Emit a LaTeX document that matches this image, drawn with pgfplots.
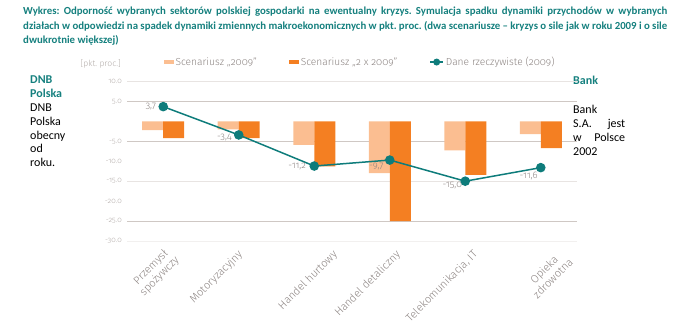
\documentclass[border=0pt]{standalone}
\usepackage{pgfplots}
\pgfplotsset{compat=1.18}
\usepackage{fontspec}
\setmainfont{Carlito}
\newfontfamily\chartfont[Numbers=OldStyle]{Fira Sans Light}
\definecolor{tealc}{HTML}{0E7C7B}
\definecolor{titlec}{HTML}{15807E}
\definecolor{lightor}{HTML}{FBBE91}
\definecolor{darkor}{HTML}{F47F22}
\definecolor{labgray}{HTML}{8C8482}
\definecolor{tickgray}{HTML}{B2ABA8}
\definecolor{gridmed}{HTML}{CFC8C4}
\definecolor{gridlight}{HTML}{E8E4E2}
\definecolor{gridvl}{HTML}{F2F0EF}
\frenchspacing
\begin{document}
\begin{tikzpicture}
\useasboundingbox (0,0) rectangle (680pt,-333pt);
% title
\node[anchor=north west, inner sep=0pt, text=titlec] at (23pt,-7pt) {\parbox{644pt}{\fontsize{10.8}{14.5}\selectfont\bfseries\frenchspacing Wykres: Odporność wybranych sektorów polskiej gospodarki na ewentualny kryzys. Symulacja spadku dynamiki przychodów w wybranych\linebreak działach w odpowiedzi na spadek dynamiki zmiennych makroekonomicznych w pkt. proc. (dwa scenariusze – kryzys o sile jak w roku 2009 i o sile\linebreak dwukrotnie większej)}};
% left text
\node[anchor=north west, inner sep=0pt, align=left, font=\fontsize{12}{13.8}\selectfont] at (30pt,-76pt) {\textcolor{titlec}{\bfseries DNB}\\\textcolor{titlec}{\bfseries Polska}\\DNB\\Polska\\obecny\\od\\roku.};
% right text
\node[anchor=north west, inner sep=0pt, text=titlec] at (573pt,-76pt) {\fontsize{12}{14}\selectfont\bfseries Bank};
\node[anchor=north west, inner sep=0pt] at (573pt,-105pt) {\parbox{52pt}{\fontsize{12}{14}\selectfont Bank\linebreak S.A.\hfill jest\linebreak w\hfill Polsce\linebreak 2002}};
% unit
\node[anchor=east, inner sep=0pt, text=tickgray, font=\chartfont\fontsize{8.5}{9}\selectfont] at (121pt,-64pt) {[pkt. proc.]};
\begin{axis}[
  at={(127pt,-241pt)}, anchor=south west,
  scale only axis, width=450pt, height=159.5pt,
  xmin=-0.48, xmax=5.48, ymin=-30, ymax=10,
  axis line style={draw=none},
  major tick length=0pt,
  xtick=\empty,
  ytick={-30,-25,-20,-15,-10,-5,0,5,10},
  yticklabels={-30.0,-25.0,-20.0,-15.0,-10.0,-5.0,{},5.0,10.0},
  yticklabel style={font=\chartfont\fontsize{7.5}{8}\selectfont, text=tickgray, inner sep=0pt, xshift=-5pt},
  clip=false,
  legend columns=3,
  legend cell align=left,
  legend style={draw=none, fill=none, at={(0.518,1.122)}, anchor=center,
    font=\chartfont\fontsize{10.2}{11}\selectfont, text=labgray,
    /tikz/every even column/.append style={column sep=30pt}},
]
\draw[gridlight, line width=0.8pt] (axis cs:-0.48,10) -- (axis cs:5.48,10);
\draw[gridmed, line width=0.8pt] (axis cs:-0.48,5) -- (axis cs:5.48,5);
\draw[gridmed, line width=0.8pt] (axis cs:-0.48,-5) -- (axis cs:5.48,-5);
\draw[gridlight, line width=0.8pt] (axis cs:-0.48,-15) -- (axis cs:5.48,-15);
\draw[gridmed, line width=0.8pt] (axis cs:-0.48,-25) -- (axis cs:5.48,-25);
\draw[gridvl, line width=0.8pt] (axis cs:-0.48,-30) -- (axis cs:5.48,-30);
\addplot[ybar, bar width=21pt, bar shift=-10.5pt, fill=lightor, draw=none,
  legend image code/.code={\fill[lightor] (0pt,-2pt) rectangle (10pt,2pt);}]
  coordinates {(0,-2.2) (1,-2.0) (2,-5.9) (3,-13.0) (4,-7.3) (5,-3.2)};
\addlegendentry{Scenariusz „2009”}
\addplot[ybar, bar width=21pt, bar shift=10.5pt, fill=darkor, draw=none,
  legend image code/.code={\fill[darkor] (0pt,-2pt) rectangle (10pt,2pt);}]
  coordinates {(0,-4.2) (1,-4.2) (2,-11.3) (3,-25.0) (4,-13.4) (5,-6.7)};
\addlegendentry{Scenariusz „2 x 2009”}
\addplot[tealc, line width=1.5pt, mark=*, mark size=4pt, mark options={fill=tealc, draw=tealc},
  legend image code/.code={\draw[tealc, line width=1.5pt] (0pt,0pt) -- (13pt,0pt); \fill[tealc] (6.5pt,0pt) circle (2.7pt);}]
  coordinates {(0,3.7) (1,-3.4) (2,-11.2) (3,-9.7) (4,-15.0) (5,-11.6)};
\addlegendentry{Dane rzeczywiste (2009)}
\begin{scope}[every node/.style={font=\chartfont\fontsize{9.5}{10}\selectfont, text=labgray, inner sep=0pt}]
\node[anchor=east] at ([xshift=-7pt]axis cs:0,3.7) {3,7};
\node[anchor=east] at ([xshift=-7pt,yshift=-3pt]axis cs:1,-3.4) {-3,4};
\node[anchor=east] at ([xshift=-8pt]axis cs:2,-11.2) {-11,2};
\node[anchor=east] at ([xshift=-6pt,yshift=-6pt]axis cs:3,-9.7) {-9,7};
\node[anchor=north east] at ([xshift=-3pt,yshift=-1pt]axis cs:4,-15.0) {-15,0};
\node[anchor=north east] at ([xshift=-3pt,yshift=-4pt]axis cs:5,-11.6) {-11,6};
\end{scope}
\end{axis}
% category labels
\begin{scope}[every node/.style={font=\chartfont\fontsize{11}{12.5}\selectfont, text=labgray, inner sep=0pt, rotate=45, anchor=north east, align=center}]
\node at (165pt,-246pt) {Przemysł\\spożywczy};
\node at (237pt,-249pt) {Motoryzacyjny};
\node at (332pt,-249pt) {Handel hurtowy};
\node at (395pt,-249pt) {Handel detaliczny};
\node at (472pt,-249pt) {Telekomunikacja, IT};
\node at (559pt,-248pt) {Opieka\\zdrowotna};
\end{scope}
\end{tikzpicture}
\end{document}
